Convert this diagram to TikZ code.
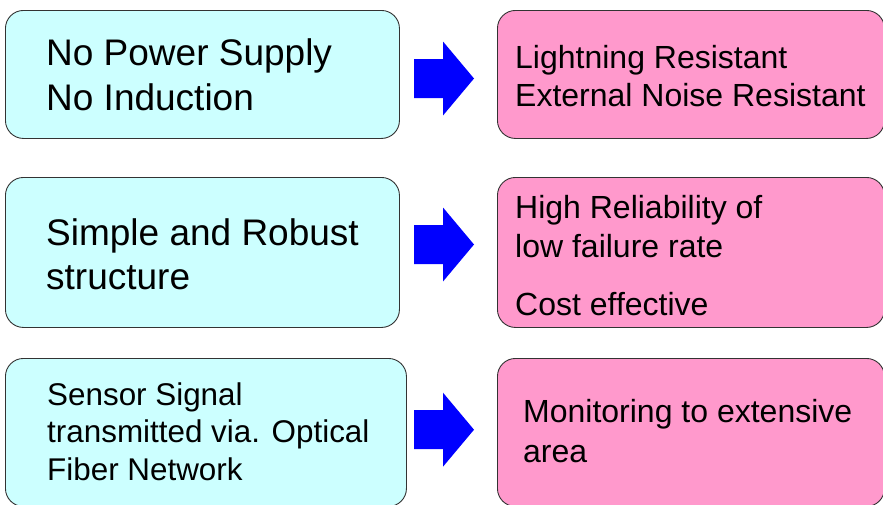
\documentclass[tikz,border=0pt]{standalone}
\usepackage{fontspec}
\setmainfont{Liberation Sans}
\definecolor{cyanfill}{HTML}{CCFFFF}
\definecolor{pinkfill}{HTML}{FF99CC}
\definecolor{arrowblue}{HTML}{0000FF}
\definecolor{edge}{HTML}{333333}
\begin{document}
\begin{tikzpicture}[x=1pt,y=-1pt,
  boxbase/.style={draw=edge, line width=0.9pt, rounded corners=18pt, anchor=north west, inner sep=0pt},
  lbox/.style={boxbase, fill=cyanfill},
  rbox/.style={boxbase, fill=pinkfill},
  bigtxt/.style={anchor=base west, inner sep=0pt, font=\fontsize{37}{40}\selectfont},
  txt/.style={anchor=base west, inner sep=0pt, font=\fontsize{32}{36}\selectfont},
  smalltxt/.style={anchor=base west, inner sep=0pt, font=\fontsize{31.4}{36}\selectfont},
  blockarrow/.pic={\fill[arrowblue] (0,-19.5) -- (29,-19.5) -- (29,-37) -- (60,0) -- (29,37) -- (29,19.5) -- (0,19.5) -- cycle;}
]
\useasboundingbox (0,0) rectangle (883,504);
\clip (0,0) rectangle (883,504);

% boxes
\node[lbox, minimum width=394pt, minimum height=128pt] (l1) at (5,10) {};
\node[rbox, minimum width=387pt, minimum height=128pt] (r1) at (497,10) {};
\node[lbox, minimum width=394pt, minimum height=150pt] (l2) at (5,177) {};
\node[rbox, minimum width=387pt, minimum height=150pt] (r2) at (497,177) {};
\node[lbox, minimum width=401pt, minimum height=148pt] (l3) at (5,358) {};
\node[rbox, minimum width=387pt, minimum height=148pt] (r3) at (497,358) {};

% arrows
\coordinate (a1) at (414,78.5);
\coordinate (a2) at (414,244.5);
\coordinate (a3) at (414,429.7);
\pic at (a1) {blockarrow};
\pic at (a2) {blockarrow};
\pic at (a3) {blockarrow};

% texts
\node[bigtxt] (t11) at (46,65) {No Power Supply};
\node[bigtxt] (t12) at (46,110) {No Induction};
\node[txt] (t21) at (515,68) {Lightning Resistant};
\node[txt] (t22) at (515,106) {External Noise Resistant};
\node[bigtxt] (t31) at (46,245) {Simple and Robust};
\node[bigtxt] (t32) at (46,289) {structure};
\node[txt] (t41) at (515,218) {High Reliability of};
\node[txt] (t42) at (515,257) {low failure rate};
\node[txt] (t43) at (515,315) {Cost effective};
\node[smalltxt] (t51) at (47,405) {Sensor Signal};
\node[smalltxt] (t52) at (47,442) {transmitted via. Optical};
\node[smalltxt] (t53) at (47,480) {Fiber Network};
\node[txt] (t61) at (523,422) {Monitoring to extensive};
\node[txt] (t62) at (523,462) {area};
\end{tikzpicture}
\end{document}
